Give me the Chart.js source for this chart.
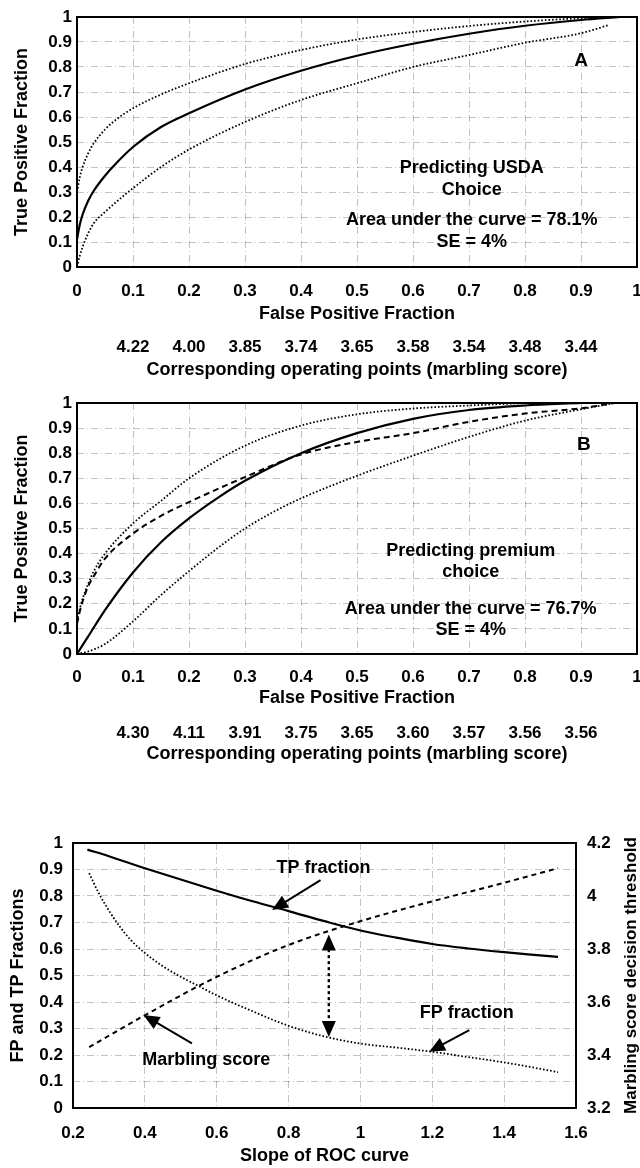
<!DOCTYPE html>
<html><head><meta charset="utf-8">
<script src="https://cdn.jsdelivr.net/npm/chart.js@4.4.1/dist/chart.umd.min.js"></script>
<style>
html,body{margin:0;padding:0;background:#fff;}
#wrap{position:relative;width:640px;height:1168px;overflow:hidden;}
canvas{position:absolute;left:0;}
</style></head><body>
<div id="wrap">
<canvas id="cA" style="top:0px" width="640" height="385"></canvas>
<canvas id="cB" style="top:386px" width="640" height="385"></canvas>
<canvas id="cC" style="top:780px" width="640" height="388"></canvas>
</div>
<script>
// ---------------- DATA ----------------
// Panel A (Predicting USDA Choice)
const aFitX   = [0, 0.005, 0.01, 0.02, 0.03, 0.05, 0.07, 0.1, 0.15, 0.2, 0.3, 0.4, 0.5, 0.6, 0.7, 0.8, 0.9, 0.97];
const aFitY   = [0.11, 0.17, 0.21, 0.265, 0.305, 0.365, 0.415, 0.48, 0.56, 0.615, 0.71, 0.785, 0.845, 0.893, 0.933, 0.965, 0.988, 1.0];
const aUpperX = [0, 0.005, 0.01, 0.02, 0.03, 0.05, 0.07, 0.1, 0.15, 0.2, 0.3, 0.4, 0.5, 0.6, 0.7, 0.8, 0.9, 0.96];
const aUpperY = [0.30, 0.36, 0.40, 0.455, 0.495, 0.55, 0.59, 0.635, 0.69, 0.735, 0.812, 0.868, 0.91, 0.94, 0.964, 0.982, 0.995, 1.0];
const aLowerX = [0, 0.005, 0.01, 0.02, 0.03, 0.05, 0.07, 0.1, 0.15, 0.2, 0.3, 0.4, 0.5, 0.6, 0.7, 0.8, 0.9, 0.95];
const aLowerY = [0.0, 0.045, 0.08, 0.135, 0.175, 0.22, 0.26, 0.315, 0.40, 0.47, 0.58, 0.668, 0.735, 0.80, 0.848, 0.897, 0.935, 0.968];
const aMarbling = ['4.22', '4.00', '3.85', '3.74', '3.65', '3.58', '3.54', '3.48', '3.44'];

// Panel B (Predicting premium choice)
const bFitX    = [0, 0.02, 0.05, 0.1, 0.15, 0.2, 0.25, 0.3, 0.4, 0.5, 0.6, 0.7, 0.8, 0.9];
const bFitY    = [0, 0.07, 0.175, 0.325, 0.445, 0.54, 0.62, 0.69, 0.80, 0.88, 0.937, 0.972, 0.99, 1.0];
const bEmpX    = [0, 0.005, 0.01, 0.02, 0.03, 0.05, 0.1, 0.15, 0.2, 0.3, 0.4, 0.5, 0.6, 0.7, 0.8, 0.9, 0.96];
const bEmpY    = [0.12, 0.17, 0.21, 0.27, 0.31, 0.38, 0.48, 0.55, 0.605, 0.705, 0.795, 0.845, 0.88, 0.925, 0.958, 0.979, 1.0];
const bUpperX  = [0, 0.005, 0.01, 0.02, 0.03, 0.05, 0.1, 0.15, 0.2, 0.3, 0.4, 0.5, 0.6, 0.7, 0.8];
const bUpperY  = [0.13, 0.18, 0.22, 0.28, 0.33, 0.40, 0.52, 0.61, 0.70, 0.83, 0.91, 0.955, 0.978, 0.99, 1.0];
const bLowerX  = [0, 0.02, 0.05, 0.1, 0.15, 0.2, 0.25, 0.3, 0.35, 0.4, 0.5, 0.6, 0.7, 0.8, 0.9, 0.96];
const bLowerY  = [0, 0.01, 0.04, 0.13, 0.235, 0.33, 0.42, 0.50, 0.565, 0.62, 0.71, 0.79, 0.865, 0.93, 0.975, 1.0];
const bMarbling = ['4.30', '4.11', '3.91', '3.75', '3.65', '3.60', '3.57', '3.56', '3.56'];

// Panel C (slope of ROC curve)
const cTpX = [0.24, 0.3, 0.4, 0.5, 0.6, 0.7, 0.8, 0.9, 1.0, 1.1, 1.2, 1.3, 1.4, 1.5, 1.55];
const cTpY = [0.975, 0.95, 0.905, 0.862, 0.82, 0.78, 0.743, 0.705, 0.67, 0.643, 0.619, 0.602, 0.588, 0.576, 0.57];
const cFpX = [0.245, 0.27, 0.3, 0.33, 0.36, 0.4, 0.45, 0.5, 0.55, 0.6, 0.7, 0.8, 0.9, 1.0, 1.1, 1.2, 1.3, 1.4, 1.5, 1.55];
const cFpY = [0.886, 0.815, 0.745, 0.685, 0.635, 0.585, 0.535, 0.495, 0.46, 0.425, 0.365, 0.31, 0.27, 0.243, 0.228, 0.212, 0.192, 0.172, 0.148, 0.135];
const cMsX = [0.245, 0.4, 0.6, 0.8, 1.0, 1.2, 1.4, 1.55];
const cMsY = [3.43, 3.55, 3.695, 3.815, 3.905, 3.98, 4.05, 4.105];

// ---------------- STYLE ----------------
const FONT = "'Liberation Sans', Arial, Helvetica, sans-serif";
const tickFont = { family: FONT, size: 17, weight: 'bold' };
const titleFont = { family: FONT, size: 18, weight: 'bold' };
const GRID = 'rgba(0,0,0,0.24)';
const GRID_DASH = [7, 3, 1, 3];
const SOLID = [], DOT = [1.6, 2.0], DASH = [6, 4];
const fmt = v => String(Number(v.toFixed(1)));

function ds(xs, ys, dash, width, yAxisID) {
  return {
    data: xs.map((x, i) => ({ x: x, y: ys[i] })),
    borderColor: '#000', borderWidth: width, borderDash: dash,
    pointRadius: 0, fill: false, cubicInterpolationMode: 'monotone',
    yAxisID: yAxisID || 'y'
  };
}

function drawArrowHead(ctx, x1, y1, x2, y2, len, half) {
  const ang = Math.atan2(y2 - y1, x2 - x1);
  ctx.beginPath();
  ctx.moveTo(x2, y2);
  ctx.lineTo(x2 - len * Math.cos(ang) + half * Math.sin(ang), y2 - len * Math.sin(ang) - half * Math.cos(ang));
  ctx.lineTo(x2 - len * Math.cos(ang) - half * Math.sin(ang), y2 - len * Math.sin(ang) + half * Math.cos(ang));
  ctx.closePath();
  ctx.fill();
}

const decor = {
  id: 'decor',
  afterDatasetsDraw(chart, args, o) {
    const { ctx, chartArea: a, scales } = chart;
    const xs = scales.x, ys = scales.y;
    ctx.save();
    ctx.fillStyle = '#000'; ctx.strokeStyle = '#000';
    ctx.setLineDash([]); ctx.lineWidth = 2;
    ctx.strokeRect(a.left, a.top, a.right - a.left, a.bottom - a.top);
    ctx.textAlign = 'center'; ctx.textBaseline = 'middle';
    (o.texts || []).forEach(t => {
      ctx.font = 'bold ' + (t.size || 18) + 'px ' + FONT;
      ctx.fillText(t.text, xs.getPixelForValue(t.x), ys.getPixelForValue(t.y));
    });
    (o.arrows || []).forEach(ar => {
      const x1 = xs.getPixelForValue(ar.from[0]), y1 = ys.getPixelForValue(ar.from[1]);
      const x2 = xs.getPixelForValue(ar.to[0]), y2 = ys.getPixelForValue(ar.to[1]);
      ctx.lineWidth = ar.width || 2;
      ctx.setLineDash(ar.dash || []);
      const L = 16, H = 7;
      const ang = Math.atan2(y2 - y1, x2 - x1);
      const ex = x2 - L * 0.8 * Math.cos(ang), ey = y2 - L * 0.8 * Math.sin(ang);
      let sx = x1, sy = y1;
      if (ar.both) { sx = x1 + L * 0.8 * Math.cos(ang); sy = y1 + L * 0.8 * Math.sin(ang); }
      ctx.beginPath(); ctx.moveTo(sx, sy); ctx.lineTo(ex, ey); ctx.stroke();
      ctx.setLineDash([]);
      drawArrowHead(ctx, x1, y1, x2, y2, L, H);
      if (ar.both) drawArrowHead(ctx, x2, y2, x1, y1, L, H);
    });
    if (o.rightTitle) {
      ctx.font = 'bold 17px ' + FONT;
      ctx.translate(o.rightTitle.x, (a.top + a.bottom) / 2);
      ctx.rotate(-Math.PI / 2);
      ctx.fillText(o.rightTitle.text, 0, 0);
    }
    ctx.restore();
  }
};

function rocChart(id, datasets, marbling, texts, xPad, xH, xmPad, xmH, xmBottom) {
  return new Chart(document.getElementById(id), {
    type: 'line',
    data: { datasets: datasets },
    options: {
      responsive: false, animation: false, devicePixelRatio: 1,
      layout: { padding: { top: 17, right: 3, left: 0, bottom: 0 }, autoPadding: false },
      plugins: { legend: { display: false }, tooltip: { enabled: false }, decor: { texts: texts } },
      scales: {
        x: {
          type: 'linear', min: 0, max: 1, position: 'bottom',
          ticks: { stepSize: 0.1, padding: xPad, font: tickFont, color: '#000', callback: fmt, maxRotation: 0, autoSkip: false },
          grid: { color: GRID, drawTicks: false, lineWidth: 1 },
          border: { display: false, dash: GRID_DASH },
          title: { display: true, text: 'False Positive Fraction', font: titleFont, color: '#000', padding: { top: 0, bottom: 0 } },
          afterFit(s) { s.height = xH; s.paddingLeft = 0; s.paddingRight = 0; }
        },
        xm: {
          type: 'linear', min: 0, max: 1, position: 'bottom',
          ticks: {
            stepSize: 0.1, padding: xmPad, font: tickFont, color: '#000', maxRotation: 0, autoSkip: false,
            callback: v => { const i = Math.round(v * 10); return (i >= 1 && i <= 9) ? marbling[i - 1] : ''; }
          },
          grid: { display: false, drawTicks: false },
          border: { display: false },
          title: { display: true, text: 'Corresponding operating points (marbling score)', font: titleFont, color: '#000', padding: { top: 0, bottom: xmBottom } },
          afterFit(s) { s.height = xmH; s.paddingLeft = 0; s.paddingRight = 0; }
        },
        y: {
          type: 'linear', min: 0, max: 1, position: 'left',
          ticks: { stepSize: 0.1, padding: 5, font: tickFont, color: '#000', callback: fmt },
          grid: { color: GRID, drawTicks: false, lineWidth: 1 },
          border: { display: false, dash: GRID_DASH },
          title: { display: true, text: 'True Positive Fraction', font: titleFont, color: '#000', padding: { top: 11, bottom: 0 } },
          afterFit(s) { s.width = 77; s.paddingTop = 0; s.paddingBottom = 0; }
        }
      }
    },
    plugins: [decor]
  });
}

// Panel A
rocChart('cA', [
  ds(aFitX, aFitY, SOLID, 2.2),
  ds(aUpperX, aUpperY, DOT, 1.8),
  ds(aLowerX, aLowerY, DOT, 1.8)
], aMarbling, [
  { text: 'A', x: 0.9, y: 0.824, size: 19 },
  { text: 'Predicting USDA', x: 0.705, y: 0.396 },
  { text: 'Choice', x: 0.705, y: 0.308 },
  { text: 'Area under the curve = 78.1%', x: 0.705, y: 0.188 },
  { text: 'SE = 4%', x: 0.705, y: 0.10 }
], 13.8, 58, 11.8, 60, 4.2);

// Panel B
rocChart('cB', [
  ds(bFitX, bFitY, SOLID, 2.2),
  ds(bEmpX, bEmpY, DASH, 2),
  ds(bUpperX, bUpperY, DOT, 1.8),
  ds(bLowerX, bLowerY, DOT, 1.8)
], bMarbling, [
  { text: 'B', x: 0.905, y: 0.833, size: 19 },
  { text: 'Predicting premium', x: 0.703, y: 0.41 },
  { text: 'choice', x: 0.703, y: 0.328 },
  { text: 'Area under the curve = 76.7%', x: 0.703, y: 0.18 },
  { text: 'SE = 4%', x: 0.703, y: 0.096 }
], 12.8, 55, 13.8, 62, 6.2);

// Panel C
new Chart(document.getElementById('cC'), {
  type: 'line',
  data: {
    datasets: [
      ds(cTpX, cTpY, SOLID, 2.2),
      ds(cFpX, cFpY, DOT, 1.8),
      ds(cMsX, cMsY, [5, 4], 2, 'y2')
    ]
  },
  options: {
    responsive: false, animation: false, devicePixelRatio: 1,
    layout: { padding: { top: 63, right: 0, left: 0, bottom: 0 }, autoPadding: false },
    plugins: {
      legend: { display: false }, tooltip: { enabled: false },
      decor: {
        texts: [
          { text: 'TP fraction', x: 0.897, y: 0.906 },
          { text: 'FP fraction', x: 1.296, y: 0.358 },
          { text: 'Marbling score', x: 0.571, y: 0.181 }
        ],
        arrows: [
          { from: [0.889, 0.86], to: [0.754, 0.747] },
          { from: [0.531, 0.244], to: [0.396, 0.351] },
          { from: [1.303, 0.294], to: [1.191, 0.212] },
          { from: [0.912, 0.268], to: [0.912, 0.655], both: true, dash: [3, 3], width: 2.4 }
        ],
        rightTitle: { text: 'Marbling score decision threshold', x: 631 }
      }
    },
    scales: {
      x: {
        type: 'linear', min: 0.2, max: 1.6, position: 'bottom',
        ticks: { stepSize: 0.2, padding: 14.8, font: tickFont, color: '#000', callback: fmt, maxRotation: 0, autoSkip: false },
        grid: { color: GRID, drawTicks: false },
        border: { display: false, dash: GRID_DASH },
        title: { display: true, text: 'Slope of ROC curve', font: titleFont, color: '#000', padding: { top: 0, bottom: 1.2 } },
        afterFit(s) { s.height = 60; s.paddingLeft = 0; s.paddingRight = 0; }
      },
      y: {
        type: 'linear', min: 0, max: 1, position: 'left',
        ticks: { stepSize: 0.1, padding: 10, font: tickFont, color: '#000', callback: fmt },
        grid: { color: GRID, drawTicks: false },
        border: { display: false, dash: GRID_DASH },
        title: { display: true, text: 'FP and TP Fractions', font: titleFont, color: '#000', padding: { top: 7, bottom: 0 } },
        afterFit(s) { s.width = 73; s.paddingTop = 0; s.paddingBottom = 0; }
      },
      y2: {
        type: 'linear', min: 3.2, max: 4.2, position: 'right',
        ticks: { stepSize: 0.2, padding: 11, font: tickFont, color: '#000', callback: fmt },
        grid: { display: false, drawTicks: false },
        border: { display: false },
        afterFit(s) { s.width = 64; s.paddingTop = 0; s.paddingBottom = 0; }
      }
    }
  },
  plugins: [decor]
});
</script>
</body></html>
